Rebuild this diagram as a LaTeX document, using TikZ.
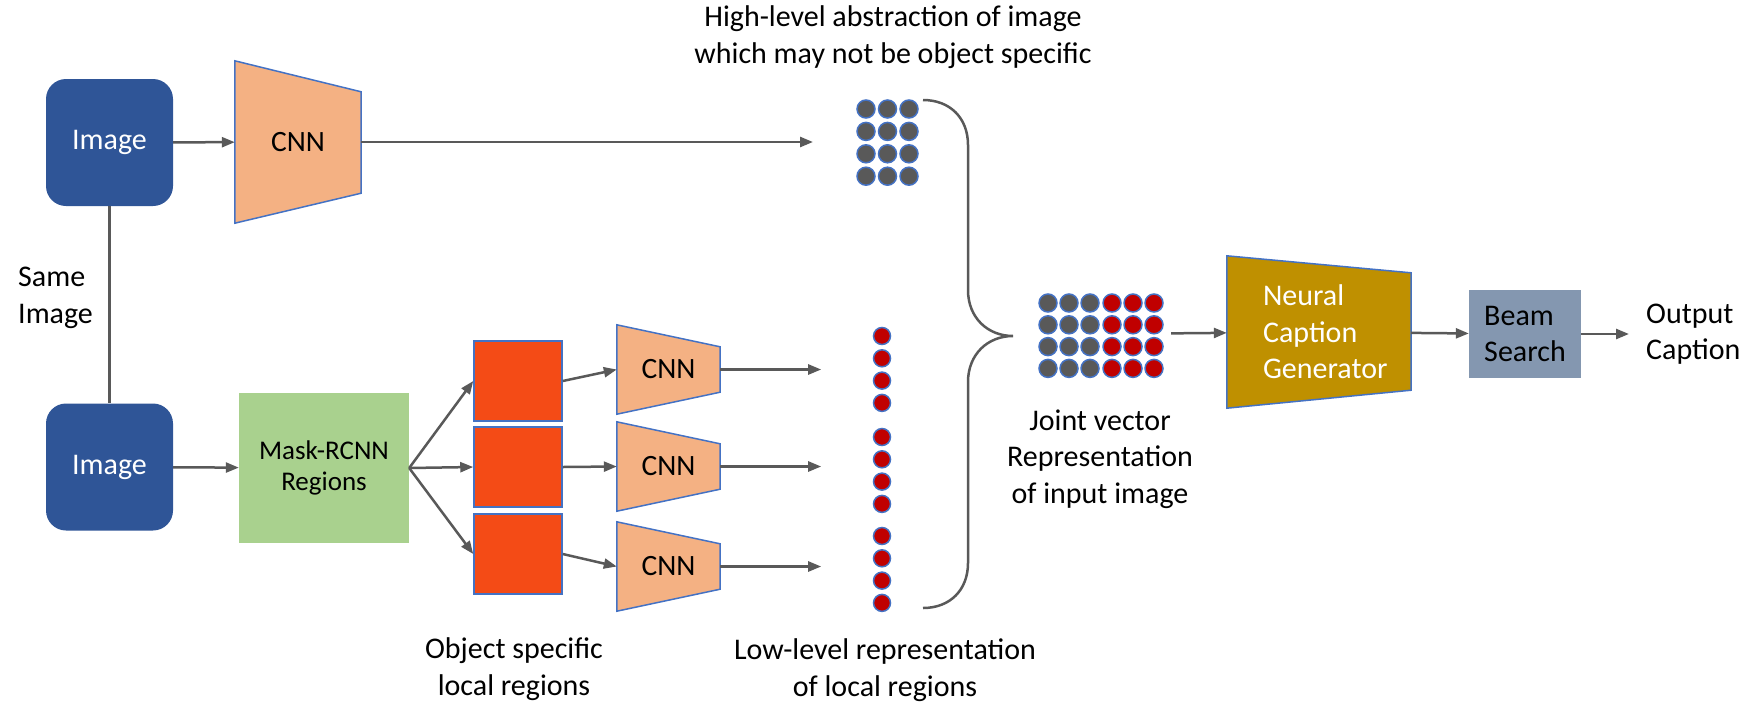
\documentclass[tikz,border=0pt]{standalone}
\usepackage{fontspec}
\setmainfont{Carlito}
\usetikzlibrary{arrows.meta,backgrounds}

\definecolor{imgblue}{HTML}{2F5597}
\definecolor{edgeblue}{HTML}{4472C4}
\definecolor{cnnfill}{HTML}{F4B183}
\definecolor{regred}{HTML}{F44B16}
\definecolor{maskgreen}{HTML}{A9D18E}
\definecolor{dotgray}{HTML}{595959}
\definecolor{dotred}{HTML}{C00000}
\definecolor{capgold}{HTML}{BF9000}
\definecolor{beamgray}{HTML}{8497B0}
\definecolor{linegray}{HTML}{595959}

\tikzset{
  txt/.style={font=\fontsize{30}{36.6}\selectfont, inner sep=0pt, align=center},
  imgbox/.style={txt, fill=imgblue, text=white, rounded corners=20pt,
    minimum width=127pt, minimum height=127pt},
  trapbox/.style={txt, font=\fontsize{29.5}{36}\selectfont},
  trapshape/.style={fill=cnnfill, draw=edgeblue, line width=1.5pt},
  maskbox/.style={txt, font=\fontsize{27}{31}\selectfont, fill=maskgreen,
    minimum width=170pt, minimum height=150pt},
  regbox/.style={fill=regred, draw=edgeblue, line width=1.5pt, inner sep=0pt,
    minimum width=88pt, minimum height=80pt},
  beambox/.style={txt, align=left, fill=beamgray, minimum width=112pt, minimum height=88pt},
  conn/.style={draw=linegray, line width=2.5pt},
  arr/.style={conn, -{Triangle[length=13pt,width=10pt]}},
  gdot/.style={fill=dotgray, draw=edgeblue, line width=1.5pt},
  rdot/.style={fill=dotred, draw=edgeblue, line width=1.5pt},
  brace/.style={draw=linegray, line width=2.5pt}
}

\begin{document}
\begin{tikzpicture}[x=1pt,y=-1pt]
  \useasboundingbox (0,0) rectangle (1750,702);

  % the two copies of the input image
  \node[imgbox] (img1) at (109.5,142.5) {Image};
  \node[imgbox] (img2) at (109.5,467) {Image};
  \draw[conn] (img1) -- (img2);
  \node[txt, anchor=west, align=left] (same) at (18,298) {Same\\Image};

  % global branch
  \node[trapbox, minimum width=126pt, minimum height=162pt] (cnn1) at (298,142) {CNN};
  \draw[arr] (img1) -- (cnn1);
  \coordinate (glob) at (813,142);
  \draw[arr] (cnn1) -- (glob);
  \foreach \x in {866,887.5,909}
    \foreach \y in {109,131.4,153.8,176.2}
      \filldraw[gdot] (\x,\y) circle[radius=9pt];
  \node[txt] (hightxt) at (893,37) {High-level abstraction of image\\which may not be object specific};

  % local branch
  \node[maskbox] (mask) at (324,468) {Mask-RCNN\\Regions};
  \draw[arr] (img2) -- (mask);
  \foreach \n/\y in {1/381,2/467,3/554}
    \node[regbox] (reg\n) at (518,\y) {};
  \foreach \n/\y in {1/369.5,2/466.5,3/566.5}
    \node[trapbox, minimum width=103pt, minimum height=89pt] (cnnl\n) at (668.5,\y) {CNN};
  \foreach \n in {1,2,3} {
    \draw[arr] (mask.east) -- (reg\n.west);
    \draw[arr] (reg\n.east) -- (cnnl\n.west);
    \draw[arr] (cnnl\n.east) -- ([xshift=101pt]cnnl\n.east) coordinate (loc\n);
  }
  \foreach \g in {336,437,536}
    \foreach \k in {0,...,3}
      \filldraw[rdot] (882,{\g+22.3*\k}) circle[radius=8.5pt];
  \node[txt] (objtxt) at (514,669) {Object specific\\local regions};
  \node[txt] (lowtxt) at (885,670) {Low-level representation\\of local regions};

  % brace joining both branches
  \draw[brace] (923,100) .. controls (950,100) and (968,118) .. (968,145) -- (968,290)
    .. controls (968,318) and (988,336) .. (1013,336)
    .. controls (988,336) and (968,354) .. (968,382) -- (968,563)
    .. controls (968,590) and (950,608) .. (923,608);

  % joint vector
  \node[inner sep=0pt, minimum width=140pt, minimum height=80pt] (joint) at (1101,334) {};
  \foreach \x in {1048,1069,1090}
    \foreach \y in {303,324.8,346.6,368.4}
      \filldraw[gdot] (\x,\y) circle[radius=9pt];
  \foreach \x in {1112,1133,1154}
    \foreach \y in {303,324.8,346.6,368.4}
      \filldraw[rdot] (\x,\y) circle[radius=9pt];
  \node[txt] (jointtxt) at (1100,459) {Joint vector\\Representation\\of input image};

  % caption generation
  \node[inner sep=0pt, minimum width=184pt, minimum height=152pt] (neural) at (1319,332) {};
  \node[txt, text=white, align=left, anchor=west] (neuraltxt) at ([xshift=36pt]neural.west) {Neural\\Caption\\Generator};
  \node[beambox] (beam) at (1525,334) {Beam\\Search};
  \node[txt, align=left, anchor=west, inner xsep=17pt] (out) at (1629,334) {Output\\Caption};
  \draw[arr] (joint) -- (neural);
  \draw[arr] (neural) -- (beam);
  \draw[arr] (beam) -- (out);

  % trapezoid outlines behind the labels
  \begin{scope}[on background layer]
    \draw[trapshape] (cnn1.north west) -- ([yshift=-31pt]cnn1.north east)
      -- ([yshift=30pt]cnn1.south east) -- (cnn1.south west) -- cycle;
    \foreach \n in {1,2,3}
      \draw[trapshape] (cnnl\n.north west) -- ([yshift=-22pt]cnnl\n.north east)
        -- ([yshift=22pt]cnnl\n.south east) -- (cnnl\n.south west) -- cycle;
    \draw[trapshape, fill=capgold] (neural.north west) -- ([yshift=-17pt]neural.north east)
      -- ([yshift=18pt]neural.south east) -- (neural.south west) -- cycle;
  \end{scope}
\end{tikzpicture}
\end{document}
